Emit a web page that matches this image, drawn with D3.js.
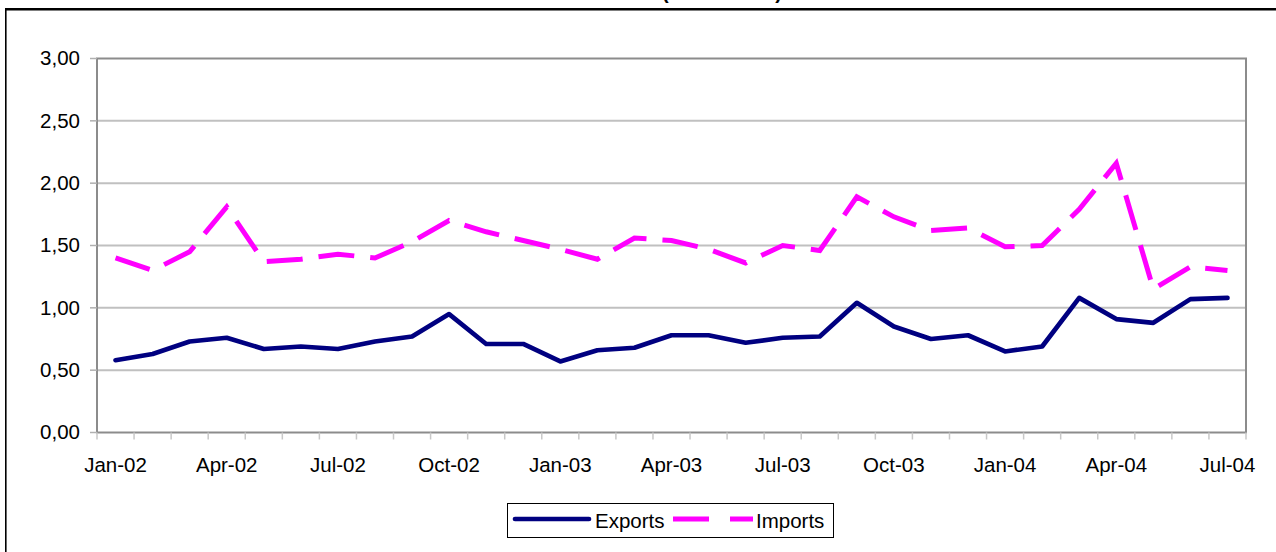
<!DOCTYPE html>
<html>
<head>
<meta charset="utf-8">
<script src="https://cdn.jsdelivr.net/npm/d3@7"></script>
<style>
  html, body { margin: 0; padding: 0; background: #fff; }
  svg { display: block; font-family: "Liberation Sans", Arial, sans-serif; }
</style>
</head>
<body>
<svg id="chart" width="1276" height="552"></svg>
<script>
// Monthly categories, Jan-02 to Jul-04
const months = [
  "Jan-02","Feb-02","Mar-02","Apr-02","May-02","Jun-02","Jul-02","Aug-02","Sep-02","Oct-02","Nov-02","Dec-02",
  "Jan-03","Feb-03","Mar-03","Apr-03","May-03","Jun-03","Jul-03","Aug-03","Sep-03","Oct-03","Nov-03","Dec-03",
  "Jan-04","Feb-04","Mar-04","Apr-04","May-04","Jun-04","Jul-04"
];

const exportsValues = [
  0.58, 0.63, 0.73, 0.76, 0.67, 0.69, 0.67, 0.73, 0.77, 0.95, 0.71, 0.71,
  0.57, 0.66, 0.68, 0.78, 0.78, 0.72, 0.76, 0.77, 1.04, 0.85, 0.75, 0.78,
  0.65, 0.69, 1.08, 0.91, 0.88, 1.07, 1.08
];

const importsValues = [
  1.40, 1.30, 1.45, 1.81, 1.37, 1.39, 1.43, 1.40, 1.53, 1.70, 1.61, 1.54,
  1.47, 1.39, 1.56, 1.54, 1.47, 1.36, 1.50, 1.46, 1.89, 1.73, 1.62, 1.64,
  1.49, 1.50, 1.79, 2.16, 1.15, 1.33, 1.30
];

const yTicks = [0, 0.5, 1, 1.5, 2, 2.5, 3];
const xTickLabels = ["Jan-02","Apr-02","Jul-02","Oct-02","Jan-03","Apr-03","Jul-03","Oct-03","Jan-04","Apr-04","Jul-04"];

const seriesNames = ["Exports", "Imports"];
const seriesColors = ["#000080", "#ff00ff"];

const svg = d3.select("#chart");

// plot area
const plot = { left: 97, right: 1246, top: 58.5, bottom: 432.5 };

const x = d3.scaleBand().domain(months).range([plot.left, plot.right]).padding(0);
const y = d3.scaleLinear().domain([0, 3]).range([plot.bottom, plot.top]);
const cx = d => x(d) + x.bandwidth() / 2;

const labelSize = 20.5;

// outer chart frame (extends past the right and bottom edges)
svg.append("line").attr("x1", 5).attr("x2", 1276).attr("y1", 9.3).attr("y2", 9.3)
  .attr("stroke", "#000").attr("stroke-width", 2.4);
svg.append("line").attr("x1", 5.8).attr("x2", 5.8).attr("y1", 8.5).attr("y2", 552)
  .attr("stroke", "#000").attr("stroke-width", 1.6);

// title, sitting mostly above the frame
svg.append("text")
  .attr("x", 782).attr("y", -1)
  .attr("text-anchor", "end")
  .attr("font-size", 20).attr("font-weight", "bold")
  .text("Trade flows (EUR billion)");

// horizontal gridlines
svg.append("g").selectAll("line")
  .data(yTicks.filter(t => t > 0 && t < 3))
  .join("line")
  .attr("x1", plot.left).attr("x2", plot.right)
  .attr("y1", d => y(d)).attr("y2", d => y(d))
  .attr("stroke", "#c0c0c0").attr("stroke-width", 2);

// plot border
svg.append("rect")
  .attr("x", plot.left).attr("y", plot.top)
  .attr("width", plot.right - plot.left).attr("height", plot.bottom - plot.top)
  .attr("fill", "none").attr("stroke", "#8c8c8c").attr("stroke-width", 2);

// y axis ticks and labels
const fmt = d3.format(".2f");
const yAxis = svg.append("g");
yAxis.selectAll("line")
  .data(yTicks).join("line")
  .attr("x1", plot.left - 7).attr("x2", plot.left)
  .attr("y1", d => y(d)).attr("y2", d => y(d))
  .attr("stroke", "#b0b0b0").attr("stroke-width", 1.5);
yAxis.selectAll("text")
  .data(yTicks).join("text")
  .attr("x", 80).attr("y", d => y(d) + 6.8)
  .attr("text-anchor", "end")
  .attr("font-size", labelSize).attr("fill", "#000")
  .text(d => fmt(d).replace(".", ","));

// x axis: tick marks on category boundaries
const boundaries = months.map(m => x(m)).concat([plot.right]);
svg.append("g").selectAll("line")
  .data(boundaries).join("line")
  .attr("x1", d => d).attr("x2", d => d)
  .attr("y1", plot.bottom).attr("y2", plot.bottom + 7)
  .attr("stroke", "#c8c8c8").attr("stroke-width", 1.5);

svg.append("g").selectAll("text")
  .data(xTickLabels).join("text")
  .attr("x", d => cx(d)).attr("y", 472)
  .attr("text-anchor", "middle")
  .attr("font-size", labelSize).attr("fill", "#000")
  .text(d => d);

// series lines
const line = d3.line()
  .x((d, i) => cx(months[i]))
  .y(d => y(d));

svg.append("path")
  .datum(importsValues)
  .attr("d", line)
  .attr("fill", "none")
  .attr("stroke", seriesColors[1])
  .attr("stroke-width", 5)
  .attr("stroke-dasharray", "36,16")
  .attr("stroke-linejoin", "miter");

svg.append("path")
  .datum(exportsValues)
  .attr("d", line)
  .attr("fill", "none")
  .attr("stroke", seriesColors[0])
  .attr("stroke-width", 4.7)
  .attr("stroke-linejoin", "round")
  .attr("stroke-linecap", "round");

// legend
const legend = svg.append("g");
legend.append("rect")
  .attr("x", 507.5).attr("y", 503.5).attr("width", 326).attr("height", 34)
  .attr("fill", "#fff").attr("stroke", "#000").attr("stroke-width", 1);

legend.append("line")
  .attr("x1", 515).attr("x2", 589).attr("y1", 519).attr("y2", 519)
  .attr("stroke", seriesColors[0]).attr("stroke-width", 4.7)
  .attr("stroke-linecap", "round");
legend.append("text")
  .attr("x", 595).attr("y", 528)
  .attr("font-size", labelSize).text(seriesNames[0]);

legend.append("line")
  .attr("x1", 673).attr("x2", 753).attr("y1", 519).attr("y2", 519)
  .attr("stroke", seriesColors[1]).attr("stroke-width", 5)
  .attr("stroke-dasharray", "36,21");
legend.append("text")
  .attr("x", 756).attr("y", 528)
  .attr("font-size", labelSize).text(seriesNames[1]);
</script>
</body>
</html>
